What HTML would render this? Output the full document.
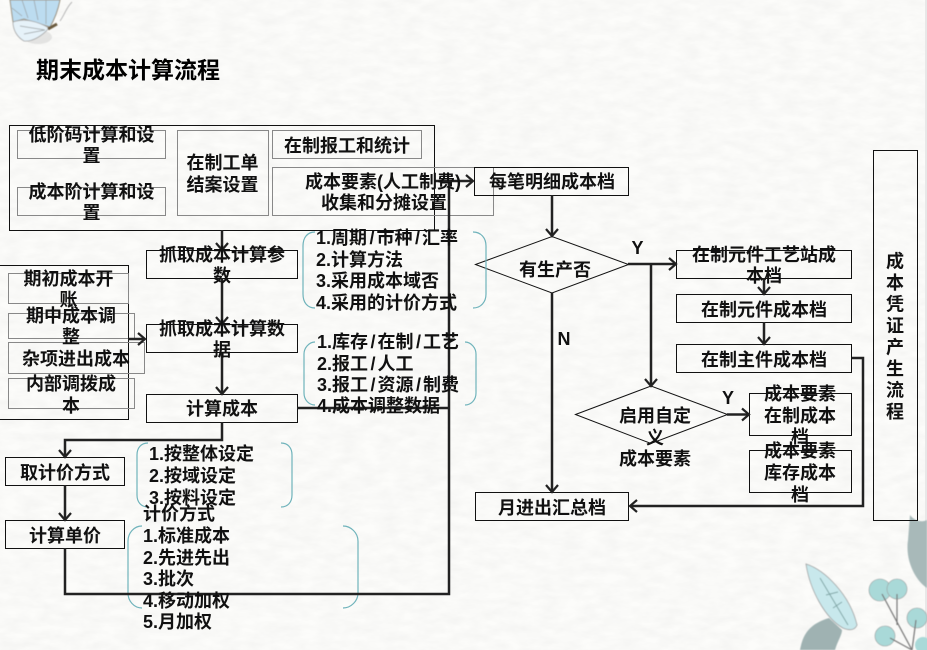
<!DOCTYPE html>
<html><head><meta charset="utf-8">
<style>
html,body{margin:0;padding:0;background:#fbfbf9;width:927px;height:650px;overflow:hidden}
svg{display:block}
text{font-family:"Liberation Sans","WenQuanYi Zen Hei","Noto Sans CJK SC",sans-serif;font-size:18px;font-weight:bold;fill:#111}
.m{text-anchor:middle}
.l{fill:none;stroke:#222;stroke-width:2.500}
.b{fill:none;stroke:#111;stroke-width:1}
.g{fill:none;stroke:#888;stroke-width:1}
.t{fill:none;stroke:#6fb3bb;stroke-width:1.200}
.a{fill:none;stroke:#222;stroke-width:2.200}
</style></head><body>
<svg width="927" height="650" viewBox="0 0 927 650" xmlns="http://www.w3.org/2000/svg">
<defs><filter id="p" x="0" y="0" width="100%" height="100%"><feTurbulence type="fractalNoise" baseFrequency=".05 .12" numOctaves="3" seed="4"/><feColorMatrix values="0 0 0 0 .5  0 0 0 0 .5  0 0 0 0 .5  0 0 0 .18 -.045"/></filter>
<filter id="s"><feGaussianBlur stdDeviation=".6"/></filter></defs>
<rect width="927" height="650" fill="#fcfcfa"/>
<rect width="927" height="650" filter="url(#p)"/>
<rect x="925" y="0" width="2" height="650" fill="#e8e8e8"/>
<!-- butterfly -->
<g filter="url(#s)">
<ellipse cx="38" cy="37" rx="14" ry="7" fill="#bbb" opacity=".35"/>
<path d="M10 0L60 0C58 10 54 20 50 27L24 19L13 22Z" fill="#bcdcf0" stroke="#9a927f" stroke-width="1"/>
<path d="M13 22C24 18 37 21 49 28C43 35 33 42 24 41C17 37 13 30 13 22Z" fill="#e6f2f9" stroke="#a3a3a3" stroke-width=".8"/>
<path d="M12 8L22 16M22 0L28 18M34 0L38 20M46 0L46 24M20 26L45 30M24 34L45 30" stroke="#9a9fa0" stroke-width=".7" fill="none"/>
<path d="M48 29L57 24" stroke="#6c5c40" stroke-width="3"/>
<path d="M60 21C65 14 66 8 72 2" stroke="#b5b5b5" fill="none"/>
</g>
<!-- leaves -->
<g filter="url(#s)">
<path d="M806 564C825 570 850 595 857 625C855 630 850 631 843 628C825 618 810 590 806 564Z" fill="#c8e8ec" stroke="#a0a0a0" stroke-width=".8"/>
<path d="M820 578L848 625M826 595L838 592M833 608L842 602" stroke="#7fa5a5" fill="none"/>
<path d="M829 618C805 625 802 640 800 650L835 650C838 640 842 635 842 630Z" fill="#9fb2b2"/>
<path d="M910 515C918 525 927 520 927 520L927 588C915 580 905 560 908 540Z" fill="#a8b9b9"/>
<circle cx="880" cy="590" r="11" fill="#a9d9d8" stroke="#999" stroke-width=".6"/>
<circle cx="897" cy="589" r="10" fill="#a9d9d8" stroke="#999" stroke-width=".6"/>
<circle cx="917" cy="618" r="10" fill="#a9d9d8" stroke="#999" stroke-width=".6"/>
<circle cx="885" cy="636" r="10" fill="#a9d9d8" stroke="#999" stroke-width=".6"/>
<circle cx="923" cy="645" r="8" fill="#a9d9d8"/>
<path d="M882 594L912 650M897 594V625M916 620L912 650M890 638L912 650" stroke="#777" fill="none" stroke-width="1.200"/>
</g>
<!-- boxes -->
<rect class="b" x="9.500" y="125.500" width="425" height="105"/>
<rect class="g" x="17.500" y="130.500" width="148" height="28"/>
<rect class="g" x="17.500" y="187.500" width="148" height="28"/>
<rect class="g" x="177.500" y="130.500" width="91" height="85"/>
<rect class="g" x="272.500" y="130.500" width="149" height="28"/>
<rect class="g" x="272.500" y="167.500" width="221" height="48"/>
<rect class="b" x="474.500" y="167.500" width="154" height="28"/>
<rect class="b" x="-2" y="265.500" width="130.500" height="154"/>
<rect class="g" x="8.500" y="273.500" width="120" height="30"/>
<rect class="g" x="8.500" y="313.500" width="126" height="25"/>
<rect class="g" x="8.500" y="342.500" width="136" height="31"/>
<rect class="g" x="8.500" y="378.500" width="126" height="30"/>
<rect class="b" x="146.500" y="250.500" width="151" height="28"/>
<rect class="b" x="146.500" y="324.500" width="151" height="28"/>
<rect class="b" x="146.500" y="394.500" width="151" height="28"/>
<rect class="b" x="5.500" y="457.500" width="119" height="28"/>
<rect class="b" x="5.500" y="520.500" width="119" height="28"/>
<rect class="b" x="676.500" y="250.500" width="175" height="28"/>
<rect class="b" x="676.500" y="294.500" width="175" height="28"/>
<rect class="b" x="676.500" y="344.500" width="175" height="28"/>
<rect class="b" x="749.500" y="393.500" width="102" height="42"/>
<rect class="b" x="749.500" y="450.500" width="102" height="42"/>
<rect class="b" x="475.500" y="492.500" width="153" height="28"/>
<rect class="b" x="873.500" y="150.500" width="44" height="370"/>
<path class="b" d="M475.500 264.500L552 236.500L628.500 264.500L552 293Z"/>
<path class="b" d="M575.500 414.500L651 386L727.500 414.500L651 443.500Z"/>
<!-- brackets -->
<path class="t" d="M315 232C307 232 303 238 303 246V294C303 302 307 308 315 308M473 232C481 232 486 238 486 246V294C486 302 481 308 473 308"/>
<path class="t" d="M315 342C309 342 304 348 304 354V393C304 400 309 405 315 405M465 342C471 342 476 348 476 354V393C476 400 471 405 465 405"/>
<path class="t" d="M148 443C141 443 137 448 137 455V495C137 502 141 507 148 507M281 443C288 443 292 448 292 455V495C292 502 288 507 281 507"/>
<path class="t" d="M142 526C134 526 128 533 128 541V593C128 601 134 608 142 608M343 526C351 526 358 533 358 541V593C358 601 351 608 343 608"/>
<!-- connectors -->
<path class="l" d="M222 230V250M222 278V324M222 352V394M297 408H449M222 422V440H65V457M65 485V520M65 548V594H449V181M434 181H473M128 339H145"/>
<path class="l" d="M552 195V236M552 293V492M628 264H676M651 264V386M764 278V294M764 322V344M727 414.500H749M852 358H863V506H630"/>
<g class="a">
<path d="M216 243L222 250L228 243"/><path d="M216 317L222 324L228 317"/><path d="M216 387L222 394L228 387"/>
<path d="M59 450L65 457L71 450"/><path d="M59 513L65 520L71 513"/>
<path d="M466 175L473 181L466 187"/><path d="M138 333L145 339L138 345"/>
<path d="M546 229L552 236L558 229"/><path d="M546 485L552 492L558 485"/>
<path d="M669 258L676 264L669 270"/><path d="M645 379L651 386L657 379"/>
<path d="M758 287L764 294L770 287"/><path d="M758 337L764 344L770 337"/>
<path d="M742 408.500L749 414.500L742 420.500"/><path d="M637 500L630 506L637 512"/>
</g>
<!-- text -->
<text x="36" y="78" style="font-size:23px;fill:#000">期末成本计算流程</text>
<g transform="translate(0,.7)">
<text class="m" x="91.500" y="140.500">低阶码计算和设</text><text class="m" x="91.500" y="161.500">置</text>
<text class="m" x="91.500" y="197.500">成本阶计算和设</text><text class="m" x="91.500" y="218.500">置</text>
<text class="m" x="222.500" y="168.500">在制工单</text><text class="m" x="222.500" y="190.500">结案设置</text>
<text class="m" x="347" y="151.500">在制报工和统计</text>
<text class="m" x="383" y="187.500">成本要素(人工制费)</text><text class="m" x="384" y="208.500">收集和分摊设置</text>
<text class="m" x="222" y="260.500">抓取成本计算参</text><text class="m" x="222" y="281.500">数</text>
<text class="m" x="222" y="334.500">抓取成本计算数</text><text class="m" x="222" y="355.500">据</text>
<text class="m" x="222" y="414.500">计算成本</text>
<text class="m" x="68.500" y="284.500">期初成本开</text><text class="m" x="68.500" y="305.500">账</text>
<text class="m" x="71" y="321.500">期中成本调</text><text class="m" x="71" y="342.500">整</text>
<text class="m" x="76" y="364.500">杂项进出成本</text>
<text class="m" x="71" y="389.500">内部调拨成</text><text class="m" x="71" y="411.500">本</text>
<text class="m" x="65" y="478.500">取计价方式</text>
<text class="m" x="65" y="541.500">计算单价</text>
<text class="m" x="552" y="187.500">每笔明细成本档</text>
<text class="m" x="555" y="275.500">有生产否</text>
<text class="m" x="764" y="260.500">在制元件工艺站成</text><text class="m" x="764" y="281.500">本档</text>
<text class="m" x="764" y="315.500">在制元件成本档</text>
<text class="m" x="764" y="365.500">在制主件成本档</text>
<text class="m" x="655" y="421.500">启用自定</text><text class="m" x="655" y="443.500">义</text><text class="m" x="655" y="464.500">成本要素</text>
<text class="m" x="800" y="399.500">成本要素</text><text class="m" x="800" y="421.500">在制成本</text><text class="m" x="800" y="442.500">档</text>
<text class="m" x="800" y="456.500">成本要素</text><text class="m" x="800" y="478.500">库存成本</text><text class="m" x="800" y="500.500">档</text>
<text class="m" x="552" y="513.500">月进出汇总档</text>
<text class="m" x="637.500" y="253.500">Y</text><text class="m" x="564" y="344.500">N</text><text class="m" x="728" y="403.500">Y</text>
<text class="m" x="895" y="267">成</text><text class="m" x="895" y="288.500">本</text><text class="m" x="895" y="310">凭</text><text class="m" x="895" y="331.500">证</text><text class="m" x="895" y="353">产</text><text class="m" x="895" y="374.500">生</text><text class="m" x="895" y="396">流</text><text class="m" x="895" y="417.500">程</text>
<text x="316" y="243.500">1.周期<tspan dx="2.500">/</tspan><tspan dx="2">市种</tspan><tspan dx="2.500">/</tspan><tspan dx="2">汇率</tspan></text><text x="316" y="265.500">2.计算方法</text><text x="316" y="286.500">3.采用成本域否</text><text x="316" y="308.500">4.采用的计价方式</text>
<text x="317" y="347.500">1.库存<tspan dx="2.500">/</tspan><tspan dx="2">在制</tspan><tspan dx="2.500">/</tspan><tspan dx="2">工艺</tspan></text><text x="317" y="369.500">2.报工<tspan dx="2.500">/</tspan><tspan dx="2">人工</tspan></text><text x="317" y="390.500">3.报工<tspan dx="2.500">/</tspan><tspan dx="2">资源</tspan><tspan dx="2.500">/</tspan><tspan dx="2">制费</tspan></text><text x="317" y="411.500">4.成本调整数据</text>
<text x="149" y="459.500">1.按整体设定</text><text x="149" y="481.500">2.按域设定</text><text x="149" y="503.500">3.按料设定</text>
<text x="143" y="519.500">计价方式</text><text x="143" y="541.500">1.标准成本</text><text x="143" y="563.500">2.先进先出</text><text x="143" y="584.500">3.批次</text><text x="143" y="606.500">4.移动加权</text><text x="143" y="627.500">5.月加权</text>
</g>
</svg>
</body></html>
